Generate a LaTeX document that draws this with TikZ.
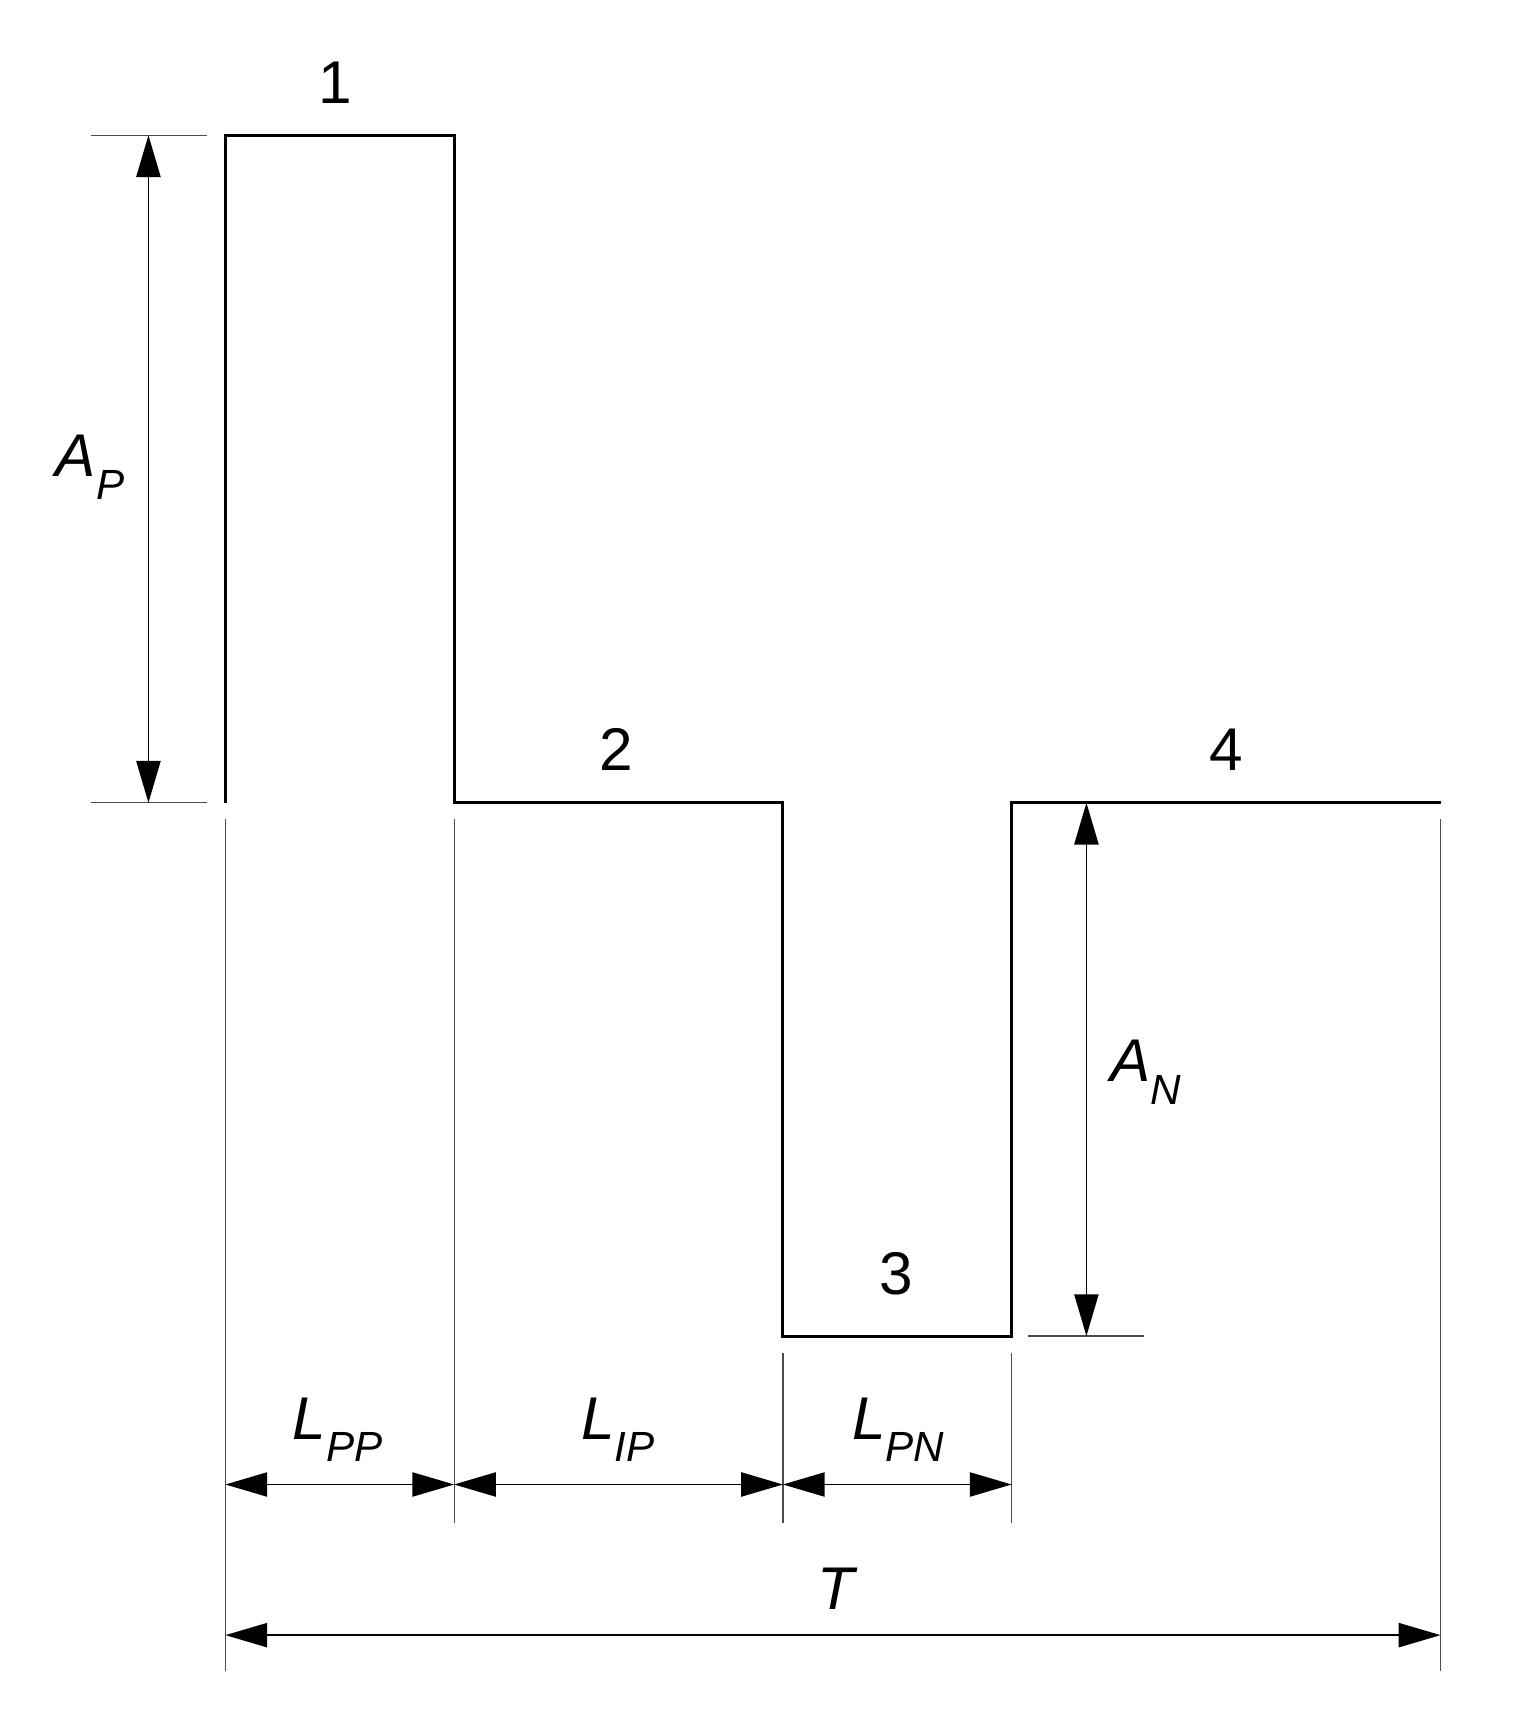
\documentclass[tikz,border=0pt]{standalone}
\usepackage{fontspec}
\setmainfont{Liberation Sans}
\usetikzlibrary{arrows.meta}
\begin{document}
\begin{tikzpicture}[x=0.05cm,y=-0.05cm,
  wave/.style={line width=4pt,black},
  ext/.style={line width=1.6pt,black!70},
  dim/.style={line width=2.2pt,black,{Triangle[length=1.9cm,width=1.1cm]}-{Triangle[length=1.9cm,width=1.1cm]}},
  lab/.style={font=\fontsize{78}{90}\selectfont\itshape,inner sep=0pt},
  num/.style={font=\fontsize{78}{90}\selectfont,inner sep=0pt}]
\useasboundingbox (0,0) rectangle (1380,1566);
\coordinate (p1) at (205,123); \coordinate (p2) at (413,123);
\coordinate (p3) at (413,730); \coordinate (p4) at (712,730);
\coordinate (p5) at (712,1215); \coordinate (p6) at (920,1215);
\coordinate (p7) at (920,730); \coordinate (p8) at (1310,730);
\coordinate (p0) at (205,730);
\draw[wave] (p0) -- (p1) -- (p2) -- (p3) -- (p4) -- (p5) -- (p6) -- (p7) -- (p8);
% extension lines
\draw[ext] (83,123) -- (188,123);
\draw[ext] (83,730) -- (188,730);
\draw[ext] (935,1215) -- (1040,1215);
\draw[ext] (205,745) -- (205,1520);
\draw[ext] (413,745) -- (413,1385);
\draw[ext] (712,1230) -- (712,1385);
\draw[ext] (920,1230) -- (920,1385);
\draw[ext] (1310,745) -- (1310,1520);
% dimension arrows
\coordinate (ap1) at (135,123); \coordinate (ap2) at (135,730);
\coordinate (an1) at (988,730); \coordinate (an2) at (988,1215);
\coordinate (l0) at (205,1350); \coordinate (l1) at (413,1350);
\coordinate (l2) at (712,1350); \coordinate (l3) at (920,1350);
\coordinate (t0) at (205,1487); \coordinate (t1) at (1310,1487);
\draw[dim] (ap1) -- (ap2);
\draw[dim] (an1) -- (an2);
\draw[dim] (l0) -- (l1);
\draw[dim] (l1) -- (l2);
\draw[dim] (l2) -- (l3);
\draw[dim] (t0) -- (t1);
% labels
\node[lab] (AP) at (82,425) {A\textsubscript{P}};
\node[lab] (AN) at (1042,975) {A\textsubscript{N}};
\node[lab] (LPP) at (307,1300) {L\textsubscript{PP}};
\node[lab] (LIP) at (562,1300) {L\textsubscript{IP}};
\node[lab] (LPN) at (817,1300) {L\textsubscript{PN}};
\node[lab] (T) at (760,1445) {T};
\node[num] (n1) at (305,75) {1};
\node[num] (n2) at (560,682) {2};
\node[num] (n3) at (815,1158) {3};
\node[num] (n4) at (1115,682) {4};
\end{tikzpicture}
\end{document}
